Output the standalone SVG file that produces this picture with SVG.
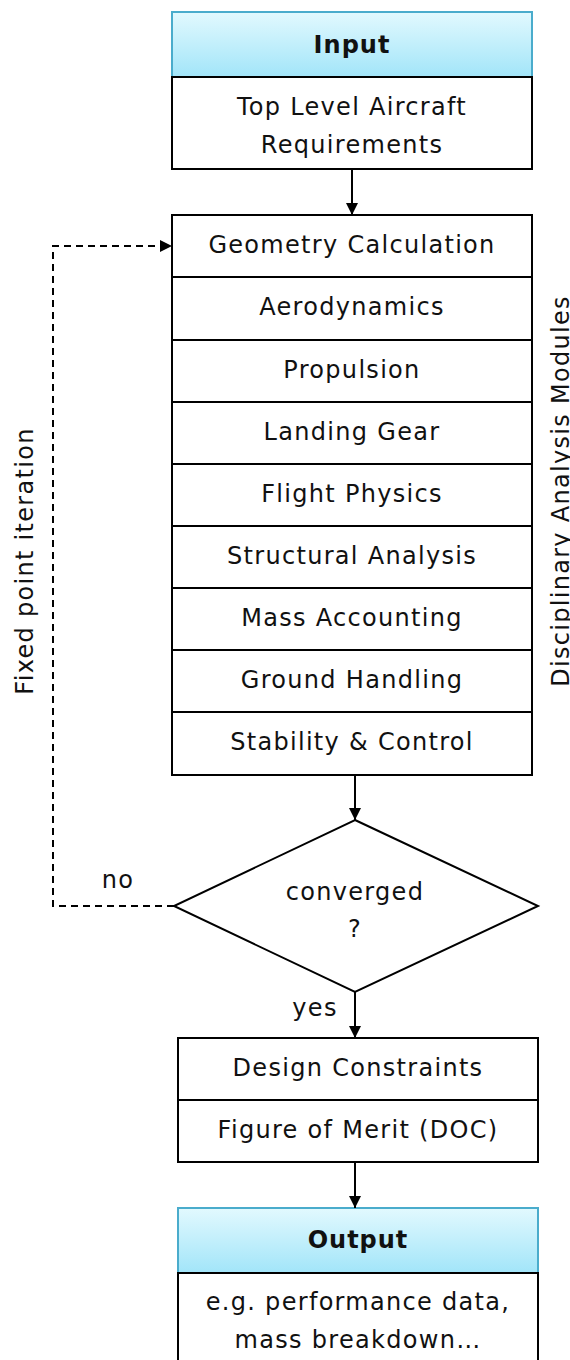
<svg xmlns="http://www.w3.org/2000/svg" width="570" height="1360" viewBox="0 0 570 1360">
  <defs>
    <linearGradient id="hdr" x1="0" y1="0" x2="0" y2="1">
      <stop offset="0" stop-color="#e2f9fe"/>
      <stop offset="1" stop-color="#a2e5f9"/>
    </linearGradient>
    <marker id="arr" viewBox="0 0 12 12" refX="12" refY="6" markerWidth="12" markerHeight="12" markerUnits="userSpaceOnUse" orient="auto">
      <path d="M0,0 L12,6 L0,12 z" fill="#000"/>
    </marker>
  </defs>
  <style>
    text { font-family: "DejaVu Sans", Verdana, sans-serif; font-size: 24px; letter-spacing: 1.3px; fill: #111; }
    .b { font-weight: bold; letter-spacing: 1px; }
    .box { fill: #fff; stroke: #000; stroke-width: 2; }
    .head { fill: url(#hdr); stroke: #4aaccc; stroke-width: 2; }
    .ln { fill: none; stroke: #000; stroke-width: 2; }
    .dash { fill: none; stroke: #000; stroke-width: 2; stroke-dasharray: 7 5; }
  </style>

  <g id="input">
    <rect class="head" x="172" y="12" width="360" height="65"/>
    <text class="b" x="352" y="53" text-anchor="middle">Input</text>
    <rect class="box" x="172" y="77" width="360" height="92"/>
    <text x="352" y="115" text-anchor="middle">Top Level Aircraft</text>
    <text x="352" y="153" text-anchor="middle">Requirements</text>
  </g>

  <g id="modules">
    <rect class="box" x="172" y="215" width="360" height="62"/>
    <text x="352" y="253" text-anchor="middle">Geometry Calculation</text>
    <rect class="box" x="172" y="277" width="360" height="63"/>
    <text x="352" y="315" text-anchor="middle">Aerodynamics</text>
    <rect class="box" x="172" y="340" width="360" height="62"/>
    <text x="352" y="378" text-anchor="middle">Propulsion</text>
    <rect class="box" x="172" y="402" width="360" height="62"/>
    <text x="352" y="440" text-anchor="middle">Landing Gear</text>
    <rect class="box" x="172" y="464" width="360" height="62"/>
    <text x="352" y="502" text-anchor="middle">Flight Physics</text>
    <rect class="box" x="172" y="526" width="360" height="62"/>
    <text x="352" y="564" text-anchor="middle">Structural Analysis</text>
    <rect class="box" x="172" y="588" width="360" height="62"/>
    <text x="352" y="626" text-anchor="middle">Mass Accounting</text>
    <rect class="box" x="172" y="650" width="360" height="62"/>
    <text x="352" y="688" text-anchor="middle">Ground Handling</text>
    <rect class="box" x="172" y="712" width="360" height="63"/>
    <text x="352" y="750" text-anchor="middle">Stability &amp; Control</text>
  </g>

  <g id="converged">
    <polygon class="box" points="355,820 538,906 355,992 174,906"/>
    <text x="355" y="900" text-anchor="middle">converged</text>
    <text x="355" y="937" text-anchor="middle">?</text>
  </g>

  <g id="evaluation">
    <rect class="box" x="178" y="1038" width="360" height="62"/>
    <text x="358" y="1076" text-anchor="middle">Design Constraints</text>
    <rect class="box" x="178" y="1100" width="360" height="62"/>
    <text x="358" y="1138" text-anchor="middle">Figure of Merit (DOC)</text>
  </g>

  <g id="output">
    <rect class="head" x="178" y="1208" width="360" height="65"/>
    <text class="b" x="358" y="1248" text-anchor="middle">Output</text>
    <rect class="box" x="178" y="1273" width="360" height="100"/>
    <text x="358" y="1310" text-anchor="middle">e.g. performance data,</text>
    <text x="358" y="1348" text-anchor="middle">mass breakdown…</text>
  </g>

  <g id="connectors">
    <line class="ln" x1="352" y1="169" x2="352" y2="215" marker-end="url(#arr)"/>
    <line class="ln" x1="355" y1="775" x2="355" y2="820" marker-end="url(#arr)"/>
    <line class="ln" x1="355" y1="992" x2="355" y2="1038" marker-end="url(#arr)"/>
    <line class="ln" x1="355" y1="1162" x2="355" y2="1208" marker-end="url(#arr)"/>
    <polyline class="dash" points="174,906 53,906 53,246 172,246" marker-end="url(#arr)"/>
    <text x="118" y="888" text-anchor="middle">no</text>
    <text x="315" y="1016" text-anchor="middle">yes</text>
  </g>

  <g id="side-labels">
    <text transform="translate(33,561) rotate(-90)" text-anchor="middle">Fixed point iteration</text>
    <text transform="translate(569,491) rotate(-90)" text-anchor="middle">Disciplinary Analysis Modules</text>
  </g>
</svg>
